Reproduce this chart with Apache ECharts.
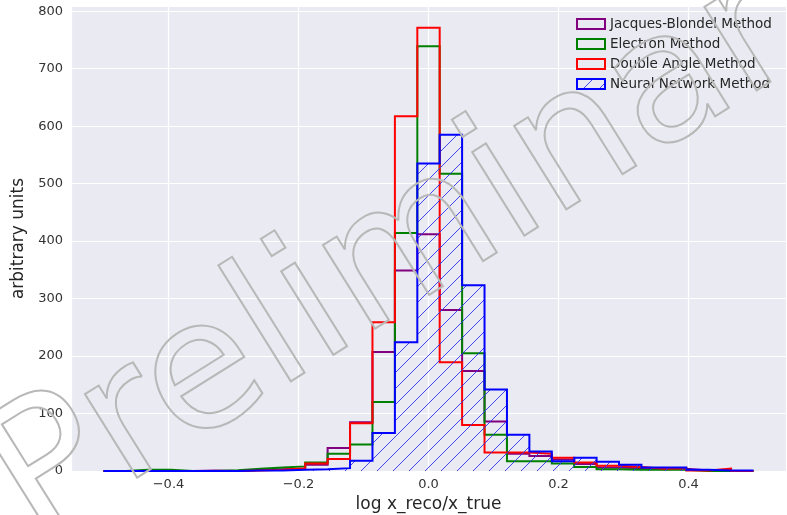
<!DOCTYPE html>
<html>
<head>
<meta charset="utf-8">
<script src="https://cdn.jsdelivr.net/npm/echarts@6/dist/echarts.min.js"></script>
<style>
html,body{margin:0;padding:0;background:#fff;}
#chart{width:787px;height:515px;}
</style>
</head>
<body>
<div id="chart"></div>
<script>
// Histogram bin edges (29 bins from -0.5 to 0.5)
const BIN_EDGES = [-0.5, -0.4655, -0.4310, -0.3966, -0.3621, -0.3276, -0.2931, -0.2586, -0.2241, -0.1897,
  -0.1552, -0.1207, -0.0862, -0.0517, -0.0172, 0.0172, 0.0517, 0.0862, 0.1207, 0.1552,
  0.1897, 0.2241, 0.2586, 0.2931, 0.3276, 0.3621, 0.3966, 0.4310, 0.4655, 0.5];

const SERIES_NAMES = ['Jacques-Blondel Method', 'Electron Method', 'Double Angle Method', 'Neural Network Method'];

const JB_COUNTS = [0, 0, 0, 0, 1, 0, 2, 3, 4, 11, 40, 85, 207, 349, 412, 280, 174, 86, 30, 26, 20, 12, 6, 5, 3, 4, 1, 0, 0];
const EL_COUNTS = [0, 2, 2, 0, 0, 1.5, 4, 6, 8, 15, 30, 46, 120, 414, 739, 517, 205, 63, 17, 17, 13, 7, 3, 2, 2, 2, 0, 0, 0];
const DA_COUNTS = [0, 0, 0, 0, 0, 0, 1, 2, 5, 13, 21, 83, 259, 617, 771, 189, 80, 32, 32, 30, 23, 15, 9, 7, 4, 5, 1, 4, 0];
const NN_COUNTS = [0, 0, 0, 0, 0, 0, 1, 1, 2, 3, 5, 18, 66, 224, 535, 585, 323, 142, 63, 34, 17, 23, 16, 11, 6, 6, 2, 1, 1];

const Y_TICKS = [0, 100, 200, 300, 400, 500, 600, 700, 800];
const X_TICKS = [-0.4, -0.2, 0.0, 0.2, 0.4];

function stepPoints(counts) {
  const pts = [[BIN_EDGES[0], 0]];
  for (let k = 0; k < counts.length; k++) {
    pts.push([BIN_EDGES[k], counts[k]]);
    pts.push([BIN_EDGES[k + 1], counts[k]]);
  }
  pts.push([BIN_EDGES[BIN_EDGES.length - 1], 0]);
  return pts;
}

// hatch pattern "/"
function makeHatch(size, color) {
  const c = document.createElement('canvas');
  c.width = size; c.height = size;
  const ctx = c.getContext('2d');
  ctx.strokeStyle = color;
  ctx.lineWidth = 0.9;
  ctx.beginPath();
  ctx.moveTo(-2, size + 2); ctx.lineTo(size + 2, -2);
  ctx.moveTo(-2, 2); ctx.lineTo(2, -2);
  ctx.moveTo(size - 2, size + 2); ctx.lineTo(size + 2, size - 2);
  ctx.stroke();
  return c;
}
const hatchCanvas = makeHatch(16, '#3030ee');
const hatchPattern = { image: hatchCanvas, repeat: 'repeat' };

const COLORS = ['#800080', '#008000', '#ff0000', '#0000ff'];
const COUNTS = [JB_COUNTS, EL_COUNTS, DA_COUNTS, NN_COUNTS];
const BG = '#eaeaf2';
const FONT = '"DejaVu Sans", sans-serif';

const series = COUNTS.map((counts, i) => {
  const s = {
    name: SERIES_NAMES[i],
    type: 'line',
    data: stepPoints(counts),
    showSymbol: false,
    symbol: 'none',
    clip: false,
    silent: true,
    z: 2 + i,
    lineStyle: { color: COLORS[i], width: 2, join: 'miter' },
    itemStyle: { color: COLORS[i] },
    emphasis: { disabled: true }
  };
  if (i === 3) {
    s.areaStyle = { color: hatchPattern, opacity: 1, origin: 'start' };
  }
  return s;
});

const chart = echarts.init(document.getElementById('chart'), null, { renderer: 'canvas' });
chart.setOption({
  animation: false,
  backgroundColor: '#ffffff',
  textStyle: { fontFamily: FONT },
  grid: {
    left: 71, right: 1, top: 6, bottom: 44,
    outerBoundsMode: 'none',
    containLabel: false,
    show: true, backgroundColor: BG, borderWidth: 0
  },
  legend: {
    orient: 'vertical',
    left: 571, top: 12,
    itemWidth: 28, itemHeight: 10,
    itemGap: 6,
    icon: 'rect',
    textStyle: { fontFamily: FONT, fontSize: 13.5, color: '#262626', lineHeight: 14 },
    data: SERIES_NAMES.map((n, i) => ({
      name: n,
      icon: 'rect',
      itemStyle: {
        color: i === 3 ? hatchPattern : BG,
        borderColor: COLORS[i], borderWidth: 2
      }
    })),
    selectedMode: false
  },
  xAxis: {
    type: 'value',
    min: -0.55, max: 0.55,
    splitNumber: 5,
    name: 'log x_reco/x_true',
    nameLocation: 'middle',
    nameGap: 21,
    nameTextStyle: { fontFamily: FONT, fontSize: 17, color: '#262626' },
    axisLine: { show: false },
    axisTick: { show: false },
    axisLabel: {
      fontFamily: FONT, fontSize: 13, color: '#333333', margin: 7,
      formatter: function (v) {
        const hit = X_TICKS.find(t => Math.abs(t - v) < 1e-6);
        if (hit === undefined) return '';
        return hit.toFixed(1).replace('-', '\u2212');
      }
    },
    splitLine: { show: true, lineStyle: { color: '#ffffff', width: 1.2 } }
  },
  yAxis: {
    type: 'value',
    min: 0, max: 809,
    interval: 100,
    name: 'arbitrary units',
    nameLocation: 'middle',
    nameGap: 34,
    nameTextStyle: { fontFamily: FONT, fontSize: 17, color: '#262626' },
    axisLine: { show: false },
    axisTick: { show: false },
    axisLabel: {
      fontFamily: FONT, fontSize: 13, color: '#333333', margin: 8,
      formatter: function (v) {
        return Y_TICKS.indexOf(Math.round(v)) >= 0 && Math.abs(v - Math.round(v)) < 1e-6 ? String(Math.round(v)) : '';
      }
    },
    splitLine: { show: true, lineStyle: { color: '#ffffff', width: 1.2 } }
  },
  series: series,
  graphic: [{
    type: 'text',
    x: 440, y: 233,
    rotation: 32 * Math.PI / 180,
    silent: true,
    z: 100,
    style: {
      text: 'Preliminary',
      font: '180px "DejaVu Sans"',
      fill: 'rgba(0,0,0,0)',
      stroke: '#b8b8b8',
      lineWidth: 2,
      align: 'center',
      verticalAlign: 'middle'
    }
  }]
});
</script>
</body>
</html>
